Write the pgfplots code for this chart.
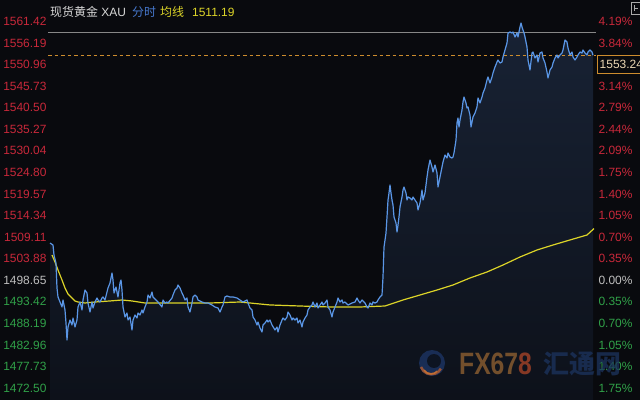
\documentclass[border=0pt]{standalone}
\usepackage{pgfplots}
\usepackage{pgfplotstable}
\pgfplotsset{compat=1.18}
\usepackage{fontspec}
\setmainfont{Liberation Sans}
\newfontfamily\cjk{Noto Sans CJK SC}
\definecolor{bg}{RGB}{9,10,14}
\definecolor{upred}{RGB}{200,40,58}
\definecolor{dngreen}{RGB}{48,160,72}
\definecolor{neutral}{RGB}{190,190,190}
\definecolor{lineblue}{RGB}{90,150,230}
\definecolor{avgyellow}{RGB}{220,212,40}
\definecolor{fillTop}{RGB}{24,34,52}
\definecolor{fillBot}{RGB}{13,17,26}
\definecolor{hdrblue}{RGB}{70,120,205}
\definecolor{boxorange}{RGB}{205,140,45}
\newcommand{\R}[1]{\textcolor{upred}{#1}}
\newcommand{\G}[1]{\textcolor{dngreen}{#1}}
\newcommand{\N}[1]{\textcolor{neutral}{#1}}
\pgfplotstableread{
t price
0 1507.68
3 1507.20
4 1504.77
6 1502.83
7 1496.77
8 1494.59
10 1493.37
12 1492.16
13 1493.86
15 1491.43
16 1488.28
17 1484.15
18 1487.31
20 1489.00
22 1487.79
23 1489.49
25 1487.31
27 1489.00
28 1492.16
30 1493.37
32 1491.43
33 1493.86
35 1496.28
37 1495.55
38 1493.13
40 1490.94
42 1493.37
43 1491.91
45 1493.37
47 1494.34
48 1493.86
50 1493.37
52 1494.34
53 1494.59
55 1493.86
57 1495.80
58 1496.77
60 1497.98
62 1500.41
63 1498.71
64 1495.55
66 1497.01
67 1495.80
68 1494.59
70 1497.98
71 1498.71
72 1496.28
73 1492.16
75 1489.73
77 1490.70
78 1489.00
80 1489.73
82 1486.58
83 1489.00
85 1490.22
87 1489.49
88 1490.70
90 1490.22
92 1491.43
93 1490.70
95 1492.16
97 1493.37
98 1495.07
100 1494.34
102 1495.80
103 1494.59
108 1493.37
112 1492.16
113 1493.86
115 1493.13
117 1493.37
118 1493.13
122 1494.34
123 1495.07
125 1496.28
127 1496.77
128 1497.50
130 1496.77
132 1495.55
133 1495.07
135 1493.86
137 1494.34
138 1492.16
140 1490.94
142 1493.13
143 1494.59
145 1495.07
147 1494.59
148 1493.86
152 1493.37
155 1493.13
158 1493.13
162 1492.65
165 1492.16
168 1491.91
170 1490.94
172 1492.16
173 1492.65
175 1494.59
177 1494.83
180 1494.59
183 1494.59
187 1494.34
190 1493.86
193 1493.37
197 1493.86
198 1493.13
200 1491.91
202 1491.43
203 1489.73
205 1489.00
207 1487.79
208 1488.52
210 1487.06
212 1486.09
213 1487.79
215 1488.28
217 1489.00
218 1488.52
220 1489.00
222 1487.79
225 1486.58
227 1487.31
228 1486.09
230 1487.79
232 1489.00
233 1489.49
235 1489.00
237 1489.73
238 1490.94
240 1490.22
242 1489.00
243 1489.49
245 1489.00
247 1489.49
248 1488.28
250 1489.00
252 1487.31
253 1488.52
255 1489.49
257 1490.22
258 1491.43
260 1492.16
262 1492.65
263 1493.37
265 1492.16
267 1493.13
268 1491.91
270 1492.65
272 1493.37
273 1492.65
275 1493.13
277 1493.86
278 1492.16
280 1491.43
282 1489.73
283 1490.94
285 1492.16
287 1493.37
288 1494.34
290 1493.37
292 1493.86
293 1493.13
295 1493.37
298 1492.65
302 1493.13
305 1493.37
307 1494.34
308 1493.86
310 1493.13
312 1493.86
315 1493.13
317 1492.16
318 1491.91
320 1493.13
322 1492.65
323 1493.37
325 1493.13
327 1493.37
328 1493.86
330 1494.59
332 1495.07
333 1499.44
334 1506.71
336 1510.11
337 1514.00
338 1518.12
339 1519.81
340 1521.76
341 1519.81
342 1518.12
343 1516.90
344 1514.00
346 1512.54
347 1510.35
348 1512.05
349 1514.00
350 1516.42
352 1518.84
353 1520.54
354 1521.27
356 1519.81
357 1518.12
358 1518.84
360 1518.60
362 1518.12
363 1518.84
365 1518.12
367 1517.39
368 1515.69
370 1517.39
371 1518.84
372 1520.54
373 1518.12
375 1519.81
377 1523.70
378 1525.39
380 1527.82
382 1526.12
383 1524.91
385 1526.61
387 1524.67
388 1521.27
390 1523.70
392 1526.12
393 1527.34
395 1529.03
397 1528.31
398 1529.52
400 1528.55
402 1528.31
403 1528.55
404 1529.52
406 1532.67
407 1536.80
408 1538.01
409 1535.83
410 1537.52
412 1539.95
413 1541.89
414 1543.10
416 1541.65
417 1540.44
418 1540.68
420 1538.73
421 1535.83
422 1537.04
423 1538.25
425 1539.22
427 1540.68
428 1542.86
430 1541.65
432 1543.10
433 1544.07
435 1545.29
437 1547.23
438 1547.96
440 1546.50
442 1547.96
443 1548.93
445 1550.38
447 1551.60
448 1552.08
450 1551.35
452 1551.60
453 1552.81
455 1554.51
457 1556.20
458 1558.63
460 1558.87
462 1558.63
463 1558.87
465 1557.66
467 1558.63
468 1557.66
470 1560.09
471 1561.06
472 1560.09
474 1558.63
475 1557.66
477 1555.23
478 1552.08
480 1549.65
482 1553.78
483 1554.02
485 1552.57
487 1553.29
488 1551.60
490 1553.78
492 1554.02
493 1552.57
495 1551.35
497 1549.17
498 1547.72
500 1549.65
502 1550.38
503 1551.35
505 1552.57
507 1553.29
508 1552.57
510 1553.29
512 1553.78
513 1554.51
515 1556.93
517 1556.45
518 1554.99
520 1553.29
522 1554.02
523 1552.81
525 1552.08
527 1552.81
528 1553.29
530 1554.02
532 1553.78
533 1554.51
535 1553.78
537 1553.29
538 1554.02
540 1554.51
542 1554.02
543 1553.24
}\pricedata
\pgfplotstableread{
t avg
2 1504.77
5 1503.07
8 1501.13
12 1498.71
15 1496.77
18 1495.31
22 1494.34
25 1493.62
28 1493.37
35 1493.13
45 1493.37
60 1493.62
72 1493.86
82 1493.62
95 1493.13
120 1493.13
160 1493.13
190 1493.37
200 1493.13
220 1492.65
250 1492.40
280 1492.16
310 1492.16
335 1492.40
353 1493.86
370 1495.07
387 1496.28
403 1497.50
420 1499.20
437 1500.65
453 1502.35
470 1504.29
487 1505.99
503 1507.20
520 1508.42
537 1509.63
544 1511.19
}\avgdata
\begin{document}
\begin{tikzpicture}
\fill[bg] (0,0) rectangle (640bp,400bp);
\path[use as bounding box] (0,0) rectangle (640bp,400bp);
\begin{axis}[
  at={(48bp,0bp)}, anchor=south west,
  scale only axis, width=548bp, height=400bp,
  xmin=-2, xmax=546, ymin=1469.596, ymax=1566.636,
  axis line style={draw=none}, tick style={draw=none},
  xtick=\empty,
  ytick={1472.50,1477.73,1482.96,1488.19,1493.42,1498.65,1503.88,1509.11,1514.34,1519.57,1524.80,1530.04,1535.27,1540.50,1545.73,1550.96,1556.19,1561.42},
  yticklabels={\G{1472.50},\G{1477.73},\G{1482.96},\G{1488.19},\G{1493.42},\N{1498.65},\R{1503.88},\R{1509.11},\R{1514.34},\R{1519.57},\R{1524.80},\R{1530.04},\R{1535.27},\R{1540.50},\R{1545.73},\R{1550.96},\R{1556.19},\R{1561.42}},
  yticklabel style={font=\fontsize{12}{14}\selectfont, xshift=2bp},
]
\addplot[draw=none, shade, top color=fillTop, bottom color=fillBot] table[x=t,y=price] {\pricedata} -- (axis cs:543,1469.596) -- (axis cs:0,1469.596) -- cycle;
\addplot[color={rgb,255:red,135;green,135;blue,135}, line width=0.9bp] coordinates {(-2,1558.88) (546,1558.88)};
\addplot[color=boxorange, line width=1bp, dash pattern=on 3.5bp off 3bp] coordinates {(-2,1553.24) (546,1553.24)};
\addplot[color=avgyellow, line width=1.2bp] table[x=t,y=avg] {\avgdata};
\addplot[color=lineblue, line width=1.2bp, line join=round] table[x=t,y=price] {\pricedata};
\end{axis}
\begin{axis}[
  at={(48bp,0bp)}, anchor=south west,
  scale only axis, width=548bp, height=400bp,
  xmin=-2, xmax=546, ymin=1469.596, ymax=1566.636,
  axis line style={draw=none}, tick style={draw=none},
  xtick=\empty, yticklabel pos=right,
  ytick={1472.50,1477.73,1482.96,1488.19,1493.42,1498.65,1503.88,1509.11,1514.34,1519.57,1524.80,1530.04,1535.27,1540.50,1545.73,1556.19,1561.42},
  yticklabels={\G{1.75\%},\G{1.40\%},\G{1.05\%},\G{0.70\%},\G{0.35\%},\N{0.00\%},\R{0.35\%},\R{0.70\%},\R{1.05\%},\R{1.40\%},\R{1.75\%},\R{2.09\%},\R{2.44\%},\R{2.79\%},\R{3.14\%},\R{3.84\%},\R{4.19\%}},
  yticklabel style={font=\fontsize{12}{14}\selectfont, xshift=-1bp},
]
\end{axis}
% price box
\filldraw[fill=bg, draw=boxorange, line width=0.8bp] (597bp,327bp) rectangle (642bp,345bp);
\node[anchor=west, inner sep=0pt, text={rgb,255:red,235;green,215;blue,180}, font=\fontsize{12}{14}\selectfont] at (599.5bp,336bp) {1553.24};
% header
\node[anchor=base west, inner sep=0pt, text={rgb,255:red,215;green,215;blue,215}, font=\fontsize{12}{14}\selectfont] at (50bp,383bp) {{\cjk 现货黄金} XAU};
\node[anchor=base west, inner sep=0pt, text=hdrblue, font=\fontsize{12}{14}\selectfont] at (132bp,383bp) {\cjk 分时};
\node[anchor=base west, inner sep=0pt, text=avgyellow, font=\fontsize{12}{14}\selectfont] at (160bp,383bp) {\cjk 均线};
\node[anchor=base west, inner sep=0pt, text=avgyellow, font=\fontsize{12}{14}\selectfont] at (192bp,383bp) {1511.19};
% top-right icon
\draw[color={rgb,255:red,170;green,170;blue,170}, line width=0.7bp] (631.5bp,386bp) rectangle (641bp,398bp);
\draw[color={rgb,255:red,170;green,170;blue,170}, line width=0.7bp] (634bp,389bp) -- (634bp,395bp) (634bp,392bp) -- (638bp,392bp);
% watermark
\begin{scope}[opacity=0.75]
\fill[color={rgb,255:red,30;green,55;blue,105}] (432bp,37bp) circle (13bp);
\fill[color={rgb,255:red,9;green,12;blue,18}] (434bp,39bp) circle (7bp);
\draw[color={rgb,255:red,190;green,95;blue,45}, line width=2.5bp] (421bp,33bp) arc (200:330:11bp);
\draw[color={rgb,255:red,210;green,120;blue,50}, line width=1.5bp] (424bp,30bp) arc (210:320:8bp);
\node[anchor=base west, inner sep=0pt, xscale=0.8, font=\fontsize{31}{33}\selectfont\bfseries] at (459bp,26bp) {\textcolor[RGB]{150,100,50}{FX67}\textcolor[RGB]{175,70,40}{8}};
\node[anchor=base west, inner sep=0pt, text={rgb,255:red,28;green,52;blue,95}, font=\fontsize{26}{28}\selectfont\cjk\bfseries] at (543bp,27bp) {汇通网};
\end{scope}
\end{tikzpicture}
\end{document}
